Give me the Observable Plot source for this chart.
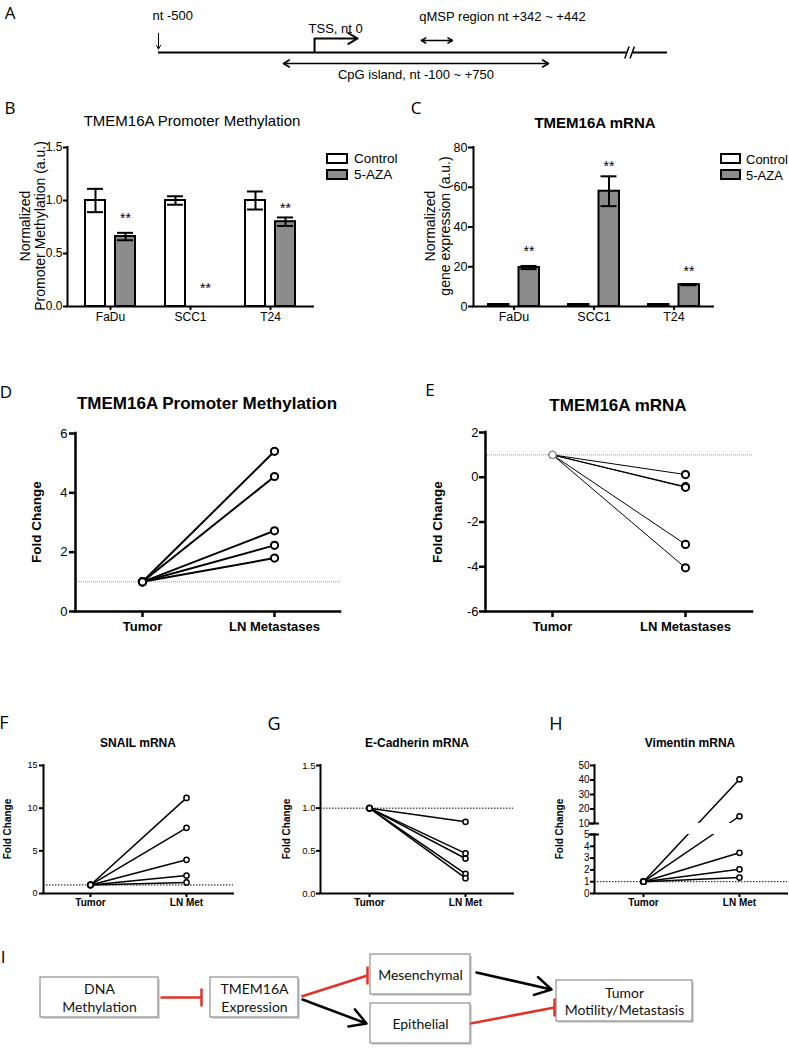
<!DOCTYPE html>
<html><head><meta charset="utf-8">
<script src="https://cdn.jsdelivr.net/npm/d3@7"></script>
<script src="https://cdn.jsdelivr.net/npm/@observablehq/plot@0.6"></script>
<style>
html,body{margin:0;padding:0;background:#fff;}
#root{position:relative;width:789px;height:1050px;overflow:hidden;background:#fff;}
.t{position:absolute;white-space:pre;line-height:1;color:#000;text-align:center;}
</style></head><body><div id="root"></div>
<script>
// ---------------- DATA ----------------
// Panel A (nucleotide positions)
const mapStart = -500, mapEnd = 1131, tss = 0;
const qmspRegion = [342, 442];
const cpgIsland = [-100, 750];
const breakAt = [1003, 1020];

// Panel B
const cellLines = ["FaDu", "SCC1", "T24"];
const methControl = [1.0, 1.0, 1.0];
const methControlErr = [0.11, 0.04, 0.085];
const methAza = [0.66, 0.0, 0.80];
const methAzaErr = [0.035, 0.0, 0.04];
const methStarY = [0.86, 0.20, 0.96];
const methTicks = [0, 0.5, 1.0, 1.5];

// Panel C
const mrnaControl = [1.0, 1.0, 1.0];
const mrnaControlErr = [0.15, 0.15, 0.15];
const mrnaAza = [19.6, 58.0, 11.0];
const mrnaAzaErr = [0.8, 7.5, 0.3];
const mrnaStarY = [29.6, 72.4, 19.6];
const mrnaTicks = [0, 20, 40, 60, 80];

// Panels D-H (paired tumor vs lymph-node metastasis fold change)
const groupsLong = ["Tumor", "LN Metastases"];
const groupsShort = ["Tumor", "LN Met"];
const tumorFC = [1, 1, 1, 1, 1];
const dMethLN = [5.4, 4.55, 2.72, 2.23, 1.8];
const eMrnaLN = [0.12, -0.42, -0.45, -3.0, -4.05];
const fSnailLN = [11.2, 7.7, 3.95, 2.1, 1.3];
const gEcadLN = [0.84, 0.47, 0.41, 0.23, 0.18];
const hVimLN = [40.5, 15.0, 3.45, 2.05, 1.35];
const dTicks = [0, 2, 4, 6];
const eTicks = [2, 0, -2, -4, -6];
const fTicks = [0, 5, 10, 15];
const gTicks = [0, 0.5, 1.0, 1.5];
const hTicks = [0, 1, 2, 3, 4, 5, 10, 20, 30, 40, 50];

// Panel I (schematic)
const nodeLabels = ["DNA\nMethylation", "TMEM16A\nExpression", "Mesenchymal", "Epithelial", "Tumor\nMotility/Metastasis"];
const edgeTypes = ["inhibit", "inhibit", "activate", "activate", "inhibit"];

// ---------------- LAYOUT / HELPERS ----------------
const root = document.getElementById("root");
const SANS = '"Liberation Sans", Arial, Helvetica, sans-serif';
const LETTER = '"Open Sans", "Liberation Sans", sans-serif';
const GRAY = "#8c8c8c";
const num = d => String(d);

function label(txt, cx, cy, o = {}) {
  const d = document.createElement("div");
  d.className = "t";
  d.textContent = txt;
  d.style.left = cx + "px";
  d.style.top = cy + "px";
  d.style.fontFamily = o.family || SANS;
  d.style.fontSize = (o.size || 12) + "px";
  d.style.fontWeight = o.weight || "normal";
  if (o.lh) d.style.lineHeight = o.lh;
  const ax = o.anchor === "start" ? "0" : "-50%";
  d.style.transform = `translate(${ax},-50%)` + (o.rotate ? ` rotate(${o.rotate}deg)` : "");
  root.append(d);
}
function legendBox(x, y, w, h, fill) {
  const d = document.createElement("div");
  Object.assign(d.style, {position: "absolute", left: x + "px", top: y + "px", width: w + "px", height: h + "px",
    border: "2px solid #000", background: fill, boxSizing: "border-box"});
  root.append(d);
}
function chart({left, top, width, height, fx0, fx1, fy0, fy1, x, y, marks, fontSize = 11, family = SANS}) {
  const svg = Plot.plot({
    width, height,
    marginLeft: fx0 - left, marginRight: left + width - fx1,
    marginTop: fy0 - top, marginBottom: top + height - fy1,
    x, y, marks,
    style: {fontFamily: family, fontSize: fontSize + "px", background: "transparent", overflow: "visible", color: "#000"}
  });
  svg.style.position = "absolute";
  svg.style.left = left + "px";
  svg.style.top = top + "px";
  svg.style.maxWidth = "none";
  root.append(svg);
  return svg;
}
function leftAxisLine(frameW, y1, y2, sw) {
  return Plot.ruleX([0], {x: null, y1, y2, dx: -frameW / 2, stroke: "#000", strokeWidth: sw, strokeLinecap: "square"});
}

// ---------------- PANEL A ----------------
label("A", 10, 12, {family: LETTER, size: 17});
chart({
  left: 0, top: 0, width: 789, height: 90, fx0: 158, fx1: 667, fy0: 12, fy1: 82, fontSize: 13,
  x: {domain: [mapStart, mapEnd], axis: null}, y: {domain: [-3, 4], axis: null},
  marks: [
    Plot.ruleY([[mapStart, breakAt[0]], [breakAt[1], mapEnd]], {x1: d => d[0], x2: d => d[1], y: 0, stroke: "#000", strokeWidth: 2}),
    Plot.link(breakAt, {x1: d => d - 9, x2: d => d + 5, y1: -0.6, y2: 0.6, stroke: "#000", strokeWidth: 1.5}),
    Plot.arrow([mapStart], {x1: d => d, x2: d => d, y1: 1.9, y2: 0.35, stroke: "#000", strokeWidth: 1, headLength: 6}),
    Plot.link([tss], {x1: d => d, x2: d => d, y1: 0, y2: 1.4, stroke: "#000", strokeWidth: 2}),
    Plot.arrow([tss], {x1: d => d, x2: d => d + 138, y1: 1.4, y2: 1.4, stroke: "#000", strokeWidth: 2, headLength: 8}),
    Plot.arrow(qmspRegion, {x1: (qmspRegion[0] + qmspRegion[1]) / 2, x2: d => d, y1: 1.2, y2: 1.2, stroke: "#000", strokeWidth: 1.5, headLength: 6}),
    Plot.arrow(cpgIsland, {x1: (cpgIsland[0] + cpgIsland[1]) / 2, x2: d => d, y1: -1.1, y2: -1.1, stroke: "#000", strokeWidth: 1.5, headLength: 7}),
    Plot.text([mapStart], {x: d => d, y: 3.7, text: d => "nt " + d, textAnchor: "start", dx: -6}),
    Plot.text([tss], {x: d => d, y: 2.4, text: d => "TSS, nt " + d, textAnchor: "start", dx: -6}),
    Plot.text([qmspRegion], {x: d => d[0], y: 3.55, text: d => `qMSP region nt +${d[0]} ~ +${d[1]}`, textAnchor: "start", dx: -2}),
    Plot.text([cpgIsland], {x: d => (d[0] + d[1]) / 2, y: -2.25, text: d => `CpG island, nt ${d[0]} ~ +${d[1]}`})
  ]
});

// ---------------- PANEL B ----------------
label("B", 10, 107, {family: LETTER, size: 17});
label("TMEM16A Promoter Methylation", 192, 120, {size: 15});
label("Normalized\nPromoter Methylation (a.u.)", 33, 226, {size: 14, rotate: -90, lh: 1.1});
legendBox(326, 153, 22, 11, "#fff");
legendBox(326, 169, 22, 11, GRAY);
label("Control", 354, 158.5, {size: 13.5, anchor: "start"});
label("5-AZA", 354, 174.5, {size: 13.5, anchor: "start"});
function groupedBars(rows, half, inner) {
  const capIn = 2 + half - 25, capOut = 32 + half - 25;
  return [
    Plot.barY(rows, {x: "cell", y: "ctl", fill: "#fff", stroke: "#000", strokeWidth: 2, insetRight: inner}),
    Plot.barY(rows, {x: "cell", y: "aza", fill: GRAY, stroke: "#000", strokeWidth: 2, insetLeft: inner}),
    Plot.ruleX(rows, {x: "cell", y1: d => d.ctl - d.ctlE, y2: d => d.ctl + d.ctlE, dx: -15, stroke: "#000", strokeWidth: 2}),
    Plot.tickY(rows, {x: "cell", y: d => d.ctl + d.ctlE, insetLeft: capIn, insetRight: capOut, stroke: "#000", strokeWidth: 2}),
    Plot.tickY(rows, {x: "cell", y: d => d.ctl - d.ctlE, insetLeft: capIn, insetRight: capOut, stroke: "#000", strokeWidth: 2}),
    Plot.ruleX(rows.filter(d => d.azaE > 0), {x: "cell", y1: d => d.aza - d.azaE, y2: d => d.aza + d.azaE, dx: 15, stroke: "#000", strokeWidth: 2}),
    Plot.tickY(rows.filter(d => d.azaE > 0), {x: "cell", y: d => d.aza + d.azaE, insetLeft: capOut, insetRight: capIn, stroke: "#000", strokeWidth: 2}),
    Plot.tickY(rows.filter(d => d.azaE > 0), {x: "cell", y: d => d.aza - d.azaE, insetLeft: capOut, insetRight: capIn, stroke: "#000", strokeWidth: 2}),
    Plot.text(rows, {x: "cell", y: "star", text: () => "**", dx: 15, dy: 3.5, fontSize: 14})
  ];
}
const bRows = cellLines.map((c, i) => ({cell: c, ctl: methControl[i], ctlE: methControlErr[i], aza: methAza[i], azaE: methAzaErr[i], star: methStarY[i]}));
chart({
  left: 0, top: 130, width: 320, height: 200, fx0: 67, fx1: 313, fy0: 147, fy1: 306, fontSize: 12,
  x: {type: "band", domain: cellLines, paddingInner: 0.375, paddingOuter: 0.225},
  y: {domain: [0, 1.5], nice: false},
  marks: [
    ...groupedBars(bRows, 25, 30),
    Plot.ruleY([0], {stroke: "#000", strokeWidth: 2, strokeLinecap: "square"}),
    leftAxisLine(313 - 67, 0, 1.5, 2),
    Plot.axisY({ticks: methTicks, tickFormat: d => d.toFixed(1), tickSize: 4, tickPadding: 1, strokeWidth: 2, fontSize: 12, label: null}),
    Plot.axisX({tickSize: 4, tickPadding: 2, strokeWidth: 2, fontSize: 12, label: null})
  ]
});

// ---------------- PANEL C ----------------
label("C", 416, 107, {family: LETTER, size: 17});
label("TMEM16A mRNA", 595, 122, {size: 15, weight: "bold"});
label("Normalized\ngene expression (a.u.)", 438, 226, {size: 14, rotate: -90, lh: 1.1});
legendBox(720, 153, 21, 11, "#fff");
legendBox(720, 169, 21, 11, GRAY);
label("Control", 746, 158.5, {size: 13, anchor: "start"});
label("5-AZA", 746, 174.5, {size: 13, anchor: "start"});
const cRows = cellLines.map((c, i) => ({cell: c, ctl: mrnaControl[i], ctlE: mrnaControlErr[i], aza: mrnaAza[i], azaE: mrnaAzaErr[i], star: mrnaStarY[i]}));
chart({
  left: 400, top: 130, width: 330, height: 200, fx0: 473, fx1: 713, fy0: 147, fy1: 306, fontSize: 12.5,
  x: {type: "band", domain: cellLines, paddingInner: 0.3625, paddingOuter: 0.18125},
  y: {domain: [0, 80], nice: false},
  marks: [
    ...groupedBars(cRows, 25.5, 30.5),
    Plot.ruleY([0], {stroke: "#000", strokeWidth: 2, strokeLinecap: "square"}),
    leftAxisLine(713 - 473, 0, 80, 2),
    Plot.axisY({ticks: mrnaTicks, tickFormat: num, tickSize: 5, tickPadding: 1, strokeWidth: 2, fontSize: 12.5, label: null}),
    Plot.axisX({tickSize: 4, tickPadding: 2, strokeWidth: 2, fontSize: 12.5, label: null})
  ]
});

// ---------------- PAIRED PANELS ----------------
function pairRows(tumor, ln, groups) {
  const rows = [];
  tumor.forEach((t, i) => { rows.push({id: i, g: groups[0], v: t}); rows.push({id: i, g: groups[1], v: ln[i]}); });
  return rows;
}
function pairedMarks(rows, o) {
  return [
    Plot.ruleY([1], {stroke: o.dotColor, strokeWidth: 1, strokeDasharray: o.dash}),
    Plot.line(rows, {x: "g", y: "v", z: "id", stroke: "#000", strokeWidth: o.lw}),
    Plot.dot(rows, {x: "g", y: "v", r: o.r, fill: "#fff", stroke: d => (o.tumorGray && d.g === "Tumor") ? "#777" : "#000",
      strokeWidth: d => (o.tumorGray && d.g === "Tumor") ? 1 : o.dw})
  ];
}

// D
label("D", 6, 391, {family: LETTER, size: 17});
label("TMEM16A Promoter Methylation", 207, 403, {size: 17, weight: "bold"});
label("Fold Change", 37, 522, {size: 13.5, weight: "bold", rotate: -90});
chart({
  left: 0, top: 420, width: 360, height: 220, fx0: 75, fx1: 340, fy0: 433, fy1: 611, fontSize: 13,
  x: {type: "point", domain: groupsLong, padding: 0.5},
  y: {domain: [0, 6], nice: false},
  marks: [
    ...pairedMarks(pairRows(tumorFC, dMethLN, groupsLong), {dotColor: "#999", dash: "1,1", lw: 2, r: 3.6, dw: 2}),
    Plot.ruleY([0], {stroke: "#000", strokeWidth: 2.5, strokeLinecap: "square"}),
    leftAxisLine(340 - 75, 0, 6, 2.5),
    Plot.axisY({ticks: dTicks, tickFormat: num, tickSize: 6, tickPadding: 2, strokeWidth: 2.5, fontSize: 13, label: null}),
    Plot.axisX({tickSize: 6, tickPadding: 4, strokeWidth: 2.5, fontWeight: "bold", fontSize: 13, label: null})
  ]
});

// E
label("E", 430, 389, {family: LETTER, size: 17});
label("TMEM16A mRNA", 618, 405, {size: 17, weight: "bold"});
label("Fold Change", 438, 522, {size: 13.5, weight: "bold", rotate: -90});
chart({
  left: 400, top: 420, width: 389, height: 220, fx0: 485, fx1: 752, fy0: 432, fy1: 611, fontSize: 13,
  x: {type: "point", domain: groupsLong, padding: 0.5},
  y: {domain: [-6, 2], nice: false},
  marks: [
    ...pairedMarks(pairRows(tumorFC, eMrnaLN, groupsLong), {dotColor: "#999", dash: "1,1", lw: 1, r: 3.6, dw: 2, tumorGray: true}),
    Plot.ruleY([-6], {stroke: "#000", strokeWidth: 2.5, strokeLinecap: "square"}),
    leftAxisLine(752 - 485, -6, 2, 2.5),
    Plot.axisY({ticks: eTicks, tickFormat: num, tickSize: 6, tickPadding: 1, strokeWidth: 2.5, fontSize: 13, label: null}),
    Plot.axisX({tickSize: 6, tickPadding: 4, strokeWidth: 2.5, fontWeight: "bold", fontSize: 13, label: null})
  ]
});

// F
label("F", 4, 722, {family: LETTER, size: 18});
label("SNAIL mRNA", 138, 743, {size: 12, weight: "bold"});
label("Fold Change", 8, 829, {size: 10, weight: "bold", rotate: -90});
const smallOpts = {dotColor: "#000", dash: "1.5,1.5", lw: 1.5, r: 2.6, dw: 1.5};
chart({
  left: 0, top: 755, width: 250, height: 160, fx0: 43, fx1: 233, fy0: 765, fy1: 893, fontSize: 9,
  x: {type: "point", domain: groupsShort, padding: 0.48},
  y: {domain: [0, 15], nice: false},
  marks: [
    ...pairedMarks(pairRows(tumorFC, fSnailLN, groupsShort), smallOpts),
    Plot.ruleY([0], {stroke: "#000", strokeWidth: 2, strokeLinecap: "square"}),
    leftAxisLine(233 - 43, 0, 15, 2),
    Plot.axisY({ticks: fTicks, tickFormat: num, tickSize: 4, tickPadding: 2, strokeWidth: 2, fontSize: 9, label: null}),
    Plot.axisX({tickSize: 4, tickPadding: 1, strokeWidth: 2, fontWeight: "bold", fontSize: 10, label: null})
  ]
});

// G
label("G", 274, 723, {family: LETTER, size: 18});
label("E-Cadherin mRNA", 417, 743, {size: 12, weight: "bold"});
label("Fold Change", 287, 829, {size: 10, weight: "bold", rotate: -90});
chart({
  left: 260, top: 755, width: 265, height: 160, fx0: 320, fx1: 513, fy0: 765, fy1: 893, fontSize: 9.5,
  x: {type: "point", domain: groupsShort, padding: 0.5},
  y: {domain: [0, 1.5], nice: false},
  marks: [
    ...pairedMarks(pairRows(tumorFC, gEcadLN, groupsShort), smallOpts),
    Plot.ruleY([0], {stroke: "#000", strokeWidth: 2, strokeLinecap: "square"}),
    leftAxisLine(513 - 320, 0, 1.5, 2),
    Plot.axisY({ticks: gTicks, tickFormat: d => d.toFixed(1), tickSize: 4, tickPadding: 1, strokeWidth: 2, fontSize: 9.5, label: null}),
    Plot.axisX({tickSize: 4, tickPadding: 1, strokeWidth: 2, fontWeight: "bold", fontSize: 10, label: null})
  ]
});

// H (broken y axis: piecewise linear scale)
label("H", 556, 723, {family: LETTER, size: 18});
label("Vimentin mRNA", 690, 743, {size: 12, weight: "bold"});
label("Fold Change", 560, 829, {size: 10, weight: "bold", rotate: -90});
const hFw = 787 - 594;
const hRows = pairRows(tumorFC, hVimLN, groupsShort);
chart({
  left: 520, top: 755, width: 269, height: 160, fx0: 594, fx1: 787, fy0: 765, fy1: 893, fontSize: 10,
  x: {type: "point", domain: groupsShort, padding: 0.5},
  y: {type: "linear", domain: [0, 5, 10, 50], range: [138, 79, 68, 10]},
  marks: [
    Plot.ruleY([1], {stroke: "#000", strokeWidth: 1, strokeDasharray: "1.5,1.5"}),
    Plot.line(hRows, {x: "g", y: "v", z: "id", stroke: "#000", strokeWidth: 1.5}),
    Plot.rect([0], {y1: 5, y2: 10, fill: "#fff", insetLeft: 3}),
    Plot.dot(hRows, {x: "g", y: "v", r: 2.6, fill: "#fff", stroke: "#000", strokeWidth: 1.5}),
    Plot.ruleY([0], {stroke: "#000", strokeWidth: 2, strokeLinecap: "square"}),
    Plot.ruleX([[0, 5], [10, 50]], {x: null, y1: d => d[0], y2: d => d[1], dx: -hFw / 2, stroke: "#000", strokeWidth: 2, strokeLinecap: "square"}),
    Plot.ruleY([5, 10], {insetLeft: -5, insetRight: hFw - 5, stroke: "#000", strokeWidth: 2}),
    Plot.axisY({ticks: hTicks, tickFormat: num, tickSize: 4, tickPadding: 1, strokeWidth: 2, fontSize: 10, label: null}),
    Plot.axisX({tickSize: 4, tickPadding: 1, strokeWidth: 2, fontWeight: "bold", fontSize: 10, label: null})
  ]
});

// ---------------- PANEL I ----------------
label("I", 3, 956, {family: LETTER, size: 17});
const boxLayout = [[40, 158, 977, 1017], [210, 298, 977, 1017], [370, 470, 954, 994], [370, 470, 1003, 1043], [556, 692, 980, 1021]];
const edgeLayout = [[160, 997, 201, 997], [301, 996, 367, 975], [302, 999, 366, 1023], [476, 972, 551, 989], [470, 1023, 554, 1007]];
const boxes = nodeLabels.map((l, i) => ({label: l, x1: boxLayout[i][0], x2: boxLayout[i][1], y1: boxLayout[i][2], y2: boxLayout[i][3]}));
const edges = edgeTypes.map((t, i) => ({type: t, x1: edgeLayout[i][0], y1: edgeLayout[i][1], x2: edgeLayout[i][2], y2: edgeLayout[i][3]}));
const inhib = edges.filter(e => e.type === "inhibit");
const act = edges.filter(e => e.type === "activate");
const RED = "#e2332a";
chart({
  left: 0, top: 890, width: 789, height: 160, fx0: 0, fx1: 789, fy0: 890, fy1: 1050, fontSize: 14,
  family: 'Lato, "Open Sans", sans-serif',
  x: {domain: [0, 789], axis: null}, y: {domain: [890, 1050], reverse: true, axis: null},
  marks: [
    Plot.rect(boxes, {x1: "x1", x2: "x2", y1: "y1", y2: "y2", fill: "#d9d9d9", dx: 2, dy: 2}),
    Plot.rect(boxes, {x1: "x1", x2: "x2", y1: "y1", y2: "y2", fill: "#fff", stroke: "#7a7a7a", strokeWidth: 1}),
    Plot.text(boxes, {x: d => (d.x1 + d.x2) / 2, y: d => (d.y1 + d.y2) / 2, text: "label", lineHeight: 1.25, fontSize: 14, fill: "#111"}),
    Plot.link(inhib, {x1: "x1", y1: "y1", x2: "x2", y2: "y2", stroke: RED, strokeWidth: 2.5}),
    Plot.link(inhib, {x1: "x2", x2: "x2", y1: d => d.y2 - 9, y2: d => d.y2 + 9, stroke: RED, strokeWidth: 2.5}),
    Plot.arrow(act, {x1: "x1", y1: "y1", x2: "x2", y2: "y2", stroke: "#000", strokeWidth: 2.5, headLength: 11})
  ]
});
</script></body></html>
